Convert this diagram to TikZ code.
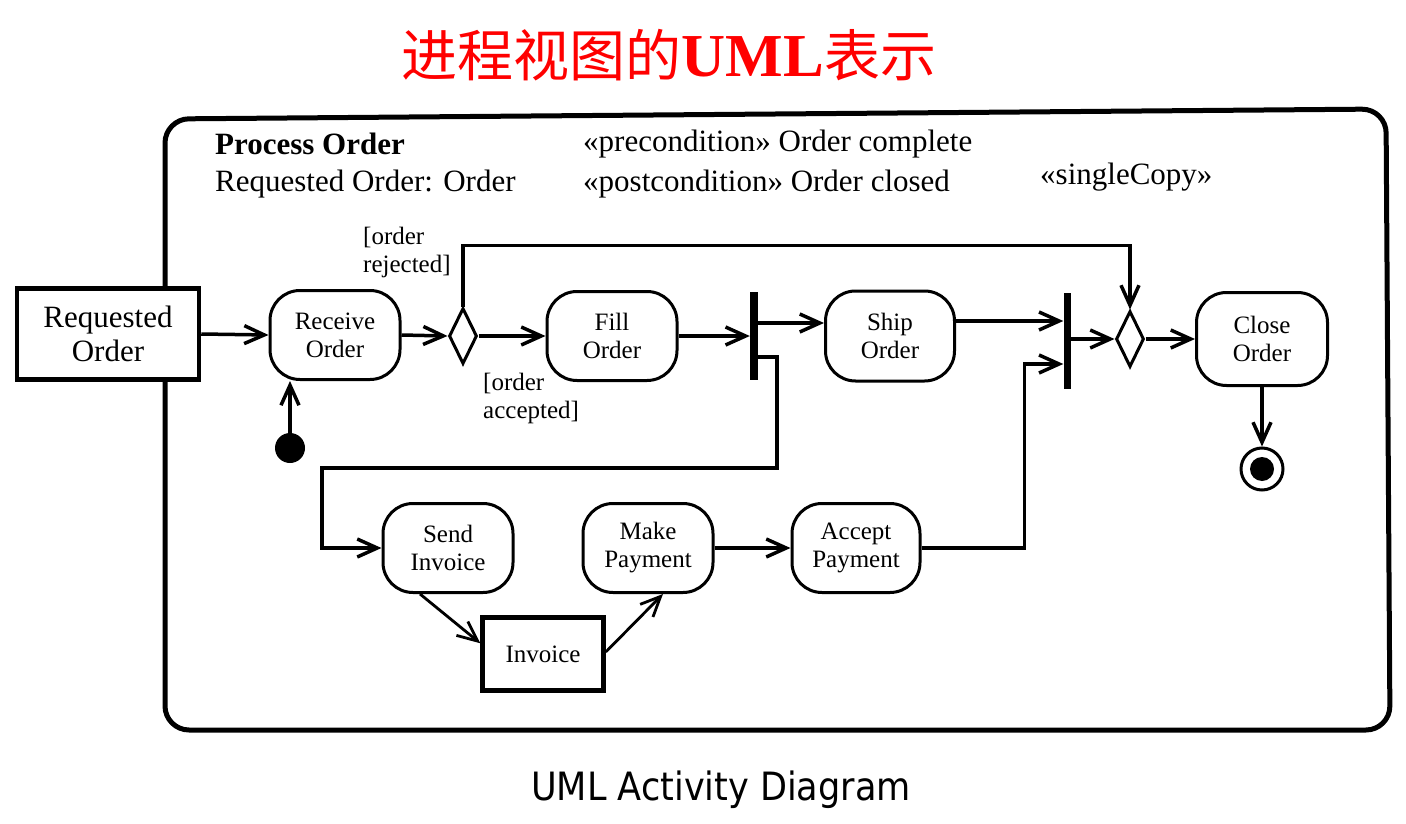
\documentclass[tikz,border=0pt]{standalone}
\usepackage{fontspec}
\setmainfont{Liberation Serif}
\newfontfamily\cjk{Noto Sans CJK SC}
\newfontfamily\capfont{DejaVu Sans Condensed}
\usetikzlibrary{arrows.meta,shapes.geometric,calc}
\begin{document}
\begin{tikzpicture}[x=1pt,y=-1pt,
 conn/.style={line width=3.5pt},
 arr/.style={conn,-{Straight Barb[length=20pt,width=18pt]}},
 act/.style={draw,line width=3pt,rounded corners=30pt,minimum width=130pt,minimum height=89pt,align=center,inner sep=0pt,fill=white,font=\fontsize{25}{28}\selectfont},
 obj/.style={draw,line width=4.5pt,fill=white,align=center,inner sep=0pt},
 syncbar/.style={fill=black,minimum width=8pt,inner sep=0pt},
 dec/.style={draw,diamond,line width=3pt,minimum width=28pt,minimum height=56pt,inner sep=0pt,fill=white},
 hdr/.style={anchor=base west,inner sep=0pt,font=\fontsize{31}{36}\selectfont},
 guard/.style={anchor=base west,inner sep=0pt,align=left,font=\fontsize{25}{28}\selectfont}]
\useasboundingbox (0,0) rectangle (1406,824);
\fill[white] (0,0) rectangle (1406,824);

% title
\node[text=red,inner sep=0pt] (title) at (669,55) {\fontsize{56}{60}\selectfont\cjk 进程视图的{\rmfamily\bfseries\fontsize{61}{61}\selectfont UML}表示};

% frame
\draw[line width=5pt,rounded corners=24pt] (165,730) -- (165,119) -- (1386,109) -- (1390,730) -- cycle;

% header texts
\node[hdr] (pname) at (215,155) {\bfseries Process Order};
\node[hdr] (param) at (215,191) {Requested Order: Order};
\node[hdr] (pre) at (583,152) {«precondition» Order complete};
\node[hdr] (post) at (583,192) {«postcondition» Order closed};
\node[hdr] (single) at (1040,185) {«singleCopy»};

% nodes
\node[obj,minimum width=182pt,minimum height=91pt,font=\fontsize{31}{34}\selectfont] (ro) at (108,334) {Requested\\Order};
\node[act] (rec) at (335,335) {Receive\\Order};
\node[circle,fill=black,minimum size=30pt,inner sep=0pt] (init) at (290,448) {};
\node[dec] (d1) at (463,336) {};
\node[act] (fill) at (612,336) {Fill\\Order};
\node[syncbar,minimum height=88pt] (fork) at (754,336) {};
\node[act,minimum width=129pt,minimum height=90pt] (ship) at (890,336) {Ship\\Order};
\node[syncbar,minimum width=7pt,minimum height=96pt] (join) at (1067,341) {};
\node[dec] (d2) at (1130,339) {};
\node[act,minimum width=131pt,minimum height=93pt] (close) at (1262,339) {Close\\Order};
\node[circle,draw,line width=3pt,minimum size=42pt,inner sep=0pt] (fin) at (1262,469) {};
\node[circle,fill=black,minimum size=24pt,inner sep=0pt] at (fin) {};
\node[act] (send) at (448,548) {Send\\Invoice};
\node[act] (make) at (648,548) {Make\\Payment};
\node[act,minimum width=128pt] (acc) at (856,548) {Accept\\Payment};
\node[obj,minimum width=121pt,minimum height=73pt,font=\fontsize{25}{28}\selectfont] (inv) at (543,654) {Invoice};

% guards
\node[guard] (grej) at (363,272) {[order\\rejected]};
\node[guard] (gacc) at (483,418) {[order\\accepted]};

% connectors
\draw[arr] (ro.east) -- (rec.west);
\draw[arr] (init.north) -- (init.north |- rec.south);
\draw[arr] (rec.east) -- (d1.west);
\draw[arr] (d1.east) -- (fill.west);
\draw[arr] (fill.east) -- (fork.west);
\draw[arr] ([yshift=13pt]fork.east) -- ([yshift=13pt]fork.east -| ship.west);
\draw[arr] ([yshift=15pt]ship.east) -- ([yshift=15pt]ship.east -| join.west);
\draw[arr] (join.east |- d2) -- (d2.west);
\draw[arr] (d2.east) -- (close.west);
\draw[arr] (close.south) -- (fin.north);
\draw[arr] (d1.north) -- ++(0,-61) -| (d2.north);
\coordinate (bend) at (322,468);
\draw[arr] ([yshift=-21pt]fork.east) -- ++(19,0) |- (bend) |- (send.west);
\draw[arr] (make.east) -- (acc.west);
\draw[arr] (acc.east) -- ++(103,0) |- ([yshift=-23pt]join.west);
\draw[arr,line width=2.8pt] ([xshift=-28pt]send.south) -- ([yshift=-28pt]inv.north west);
\draw[arr,line width=2.8pt] ([yshift=2pt]inv.east) -- ([xshift=15pt]make.south);

% caption
\node[inner sep=0pt] (cap) at (721,790) {\capfont\fontsize{39}{41}\selectfont UML Activity Diagram};
\end{tikzpicture}
\end{document}
